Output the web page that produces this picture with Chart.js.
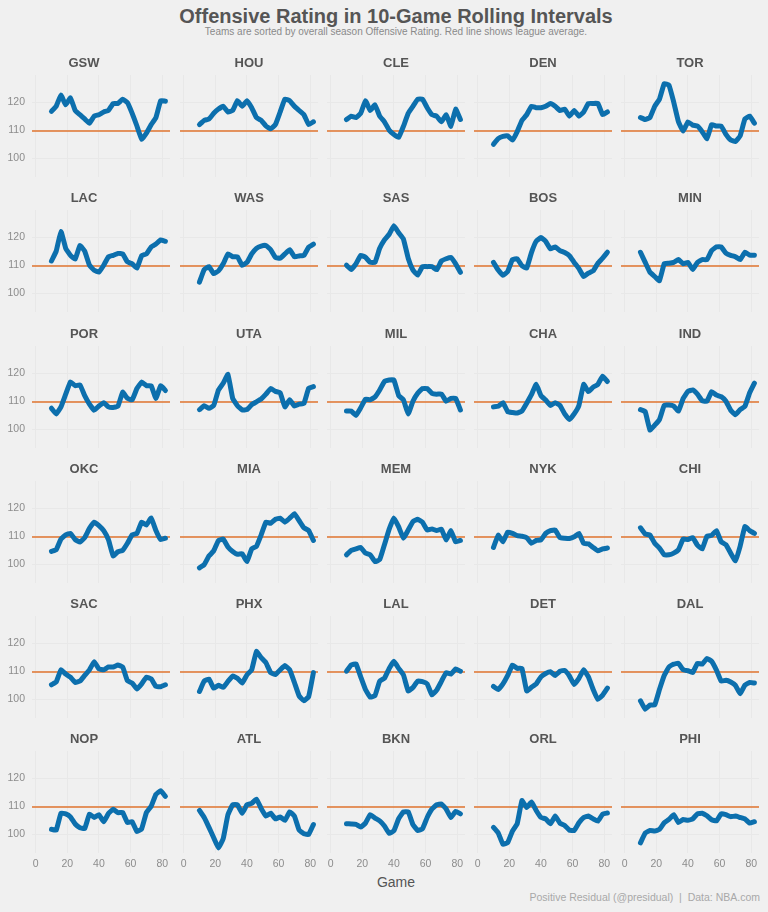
<!DOCTYPE html>
<html>
<head>
<meta charset="utf-8">
<script src="https://cdn.jsdelivr.net/npm/chart.js@4.4.1/dist/chart.umd.min.js"></script>
<style>
body{margin:0;background:#f0f0f0;width:768px;height:912px;position:relative;overflow:hidden;font-family:"Liberation Sans",Arial,sans-serif}
#title{position:absolute;left:96px;width:600px;top:4px;text-align:center;font-size:20px;line-height:24px;font-weight:bold;color:#555}
#subtitle{position:absolute;left:96px;width:600px;top:25.5px;text-align:center;font-size:10px;line-height:12px;color:#8a8a8a}
#xlabel{position:absolute;left:296px;width:200px;top:874px;text-align:center;font-size:14px;line-height:16px;color:#555}
#caption{position:absolute;right:8px;top:891px;font-size:10.5px;line-height:13px;color:#a8a8a8;white-space:pre}
canvas{position:absolute}
</style>
</head>
<body>
<div id="title">Offensive Rating in 10-Game Rolling Intervals</div>
<div id="subtitle">Teams are sorted by overall season Offensive Rating. Red line shows league average.</div>
<div id="xlabel">Game</div>
<div id="caption">Positive Residual (@presidual)  |  Data: NBA.com</div>
<script>
const GAMES = [10,13,16,19,22,25,28,31,34,37,40,43,46,49,52,55,58,61,64,67,70,73,76,79,82];
const LEAGUE_AVG = 109.7;
const X_TICKS = [0,20,40,60,80];
const Y_TICKS = [100,110,120];

const TEAMS = [
  "GSW","HOU","CLE","DEN","TOR",
  "LAC","WAS","SAS","BOS","MIN",
  "POR","UTA","MIL","CHA","IND",
  "OKC","MIA","MEM","NYK","CHI",
  "SAC","PHX","LAL","DET","DAL",
  "NOP","ATL","BKN","ORL","PHI"
];

const GSW = [116.7,118.5,122.5,119,121.5,117,115.5,114,112.5,115,115.5,116.5,117,119.5,119.5,121,119.8,116,111.5,106.8,109,112,114.5,120.5,120.3];
const HOU = [112,113.5,114,116,117.5,118.5,116.5,117,120.5,118.5,120.5,118,114.5,113.5,111.5,110.5,112,116.5,121,120.5,118.5,117,115.5,112,113];
const CLE = [113.8,115,114.5,116,120.5,117,119,115,113,110,108.5,107.5,111.4,116,118.5,121,121,118,115.5,115,113,115.5,111.4,117.5,113.8];
const DEN = [105,107,107.8,108,106.5,109.5,113.5,115.5,118.5,118,118,118.5,119.5,118.5,117,117.5,115,117,115,116.5,119.5,119.5,119.5,115.5,116.5];
const TOR = [114.5,113.8,114.5,118.5,121,126.5,126,120,113,109.7,113,111.8,111.5,109.5,107,112,111.5,111.5,108.5,106.5,106,108,114,115,112.5];
const LAC = [111.5,115,122,116,113.5,112.2,117,115,110,108.2,107.6,110,113,113.5,114.2,114,111.2,110.5,109,113.4,114,116.5,117.5,119,118.5];
const WAS = [104,108.5,109.5,107,108,110.5,114,113,113,110,111,114,116,116.8,117,115.5,112.8,112.5,114,115.5,113,113.3,113.5,116.4,117.5];
const SAS = [110,108.5,110.5,113.5,112.8,111,111,116,119,121,124,121.5,119.3,112.5,108.3,106.5,109.5,109.5,109.5,108.4,111.5,112.3,112.8,110.5,107.5];
const BOS = [111,108.3,106.4,107.8,112,112.3,109.8,109,114.5,118.5,119.8,118.5,115.8,116.5,115.2,114.5,113.4,111,108.8,106,107.2,108,110.7,112.5,114.6];
const MIN = [114.6,111,107.5,106,104.5,110.5,110.7,111,112,110.5,111,108.5,111,112,112,115.2,116.5,116.5,114.3,113.5,113,112,114.6,113.6,113.5];
const POR = [107.5,105.5,108,112.5,116.9,115.5,115.8,112,109,106.8,108.3,109.5,108,107.8,108.2,113.2,111,110.5,114.5,116.8,115.5,115.5,111,115.5,113.8];
const UTA = [107,108.4,107.5,108.5,114,116.4,119.5,111,108.4,106.9,107,108.8,109.8,110.8,112.5,114.5,113.5,113,108,110.5,108.3,109,109.2,114.6,115.2];
const MIL = [106.5,106.5,105,107.7,110.7,110.5,111.5,114,117,117.5,117.5,112,110.5,105.5,110,112.8,114.5,114.5,112.8,112.5,112.6,110,111,111,106.9];
const CHA = [108,108.2,109.5,106.3,106,105.8,106.5,109.3,112.3,116,112,110.4,108.5,109.5,108.5,105.5,103.5,105.5,108.5,116,113.4,115,116,118.9,117];
const IND = [107,106.3,99.8,101.5,103.5,108.5,108.7,108.3,106.5,111,113.5,114,112.5,110.2,110,113.4,112.2,111.6,110,106.8,105.2,107,108.2,113,116.4];
const OKC = [104.6,105.2,109,110.5,111,108.8,107.9,109.5,112.8,115,113.8,112,108.8,103,104.5,105,107.5,110.5,111,115,114,116.5,112,108.8,109.3];
const MIA = [98.8,99.9,103,104.8,108.5,109,106.2,104.6,103.6,103.8,101,105.5,106.4,110.5,115,114.6,116,116.4,115,116.4,118,115.5,113,112,108.5];
const MEM = [103.4,105,105.5,106,104,103.4,101,101.7,107,112.5,116.5,113.3,109.3,112.2,115.2,116,115,112.2,112.6,112,112.5,108.7,112,108,108.5];
const NYK = [106,110.4,108,111.5,111,110.2,110,109.5,107.5,108.5,108.7,111,112,112.2,109.5,109.3,109.2,109.8,111,107.5,107.3,106,104.8,105.5,105.8];
const CHI = [113,110.8,110.4,107.5,105.8,103.4,103.4,104,105.2,109,108.8,109.5,106.8,105.5,110,110.3,112,108,107,104,101.3,106.5,113.4,112,111];
const SAC = [105.2,106.2,110.5,109,107.9,106,106.5,108.5,110.5,113.4,110.8,110.5,111.5,111.5,112.2,111.5,106.6,105.8,103.7,105.5,107.9,107.3,104.6,104.5,105.2];
const PHX = [102.8,106.5,107.2,104,105,104.3,106.4,108.3,107.5,105.8,108.7,110.5,117,114.8,113,109.5,108.8,110.5,112,110.5,106,101.2,99.5,101,109.5];
const LAL = [110,112.2,112.6,108,103.5,100.8,101.3,106.5,107.5,111,113.5,111,108.7,103,104.2,106.5,106.3,105.5,101.6,103.3,106.4,109.5,109,110.8,110];
const DET = [104.6,103.5,105.5,108.5,112.2,111,111,103,104.3,105.5,108,109.2,109.8,108.5,110,110.3,108.3,105.3,107.5,110.5,108,103.5,100,101.5,104];
const DAL = [99.5,96.5,98,98,103.5,108.5,111.5,112.5,112.8,110.5,110.2,109.5,112.8,112.5,114.5,113.5,110.4,106.5,106.8,106.2,105,102,105.1,106,105.8];
const NOP = [101.8,101.5,107.5,107.3,106.2,103.7,102.4,102.1,107.2,106,107,104.5,107.4,108.9,107.7,107.8,104.2,104.5,101,102,107.8,110,114.2,115.5,113.5];
const ATL = [108.5,106,102.5,98.8,95.2,98.5,107,110.5,110.5,107.5,110.5,111,112.5,109.2,106.5,107.5,105.5,106.2,105,108,106.5,101.5,100.2,100,103.5];
const BKN = [103.8,103.7,103.6,102.6,104,107,105.8,104.8,103,100.4,101.3,105.6,108,108,103.5,101.4,102,106,109,110.5,110.8,109,106,108.2,107.3];
const ORL = [102.5,100.5,96.5,97.1,101.2,103.8,112,109.5,111.5,108.5,106,105.5,103.8,106.5,104,103.2,101.5,101.4,104.1,106,106.5,105.5,104.7,107.2,107.6];
const PHI = [97,100.5,101.4,101.2,101.8,104.1,105.3,107,104.2,105.3,105,105.5,107.3,107.5,106.6,105.2,104.8,107.3,107,106.3,106.5,106,105.5,104,104.5];

const SERIES = {GSW,HOU,CLE,DEN,TOR,LAC,WAS,SAS,BOS,MIN,POR,UTA,MIL,CHA,IND,
                OKC,MIA,MEM,NYK,CHI,SAC,PHX,LAL,DET,DAL,NOP,ATL,BKN,ORL,PHI};

const X_MIN = -2.3, X_MAX = 84.9;
const Y_MIN = 93.4, Y_MAX = 129.6;

Chart.defaults.font.family = '"Liberation Sans", Arial, sans-serif';

function makePanel(team, idx){
  const r = Math.floor(idx / 5), c = idx % 5;
  const plotLeft = Math.round(32.3 + 147.25 * c);
  const plotTop = Math.round(75.2 + 135.2 * r);
  const plotW = 138, plotH = 102;
  const yW = c === 0 ? 34 : 0;
  const xH = r === 5 ? 20 : 0;
  const titleH = 23;

  const cv = document.createElement("canvas");
  cv.width = yW + plotW + 6;
  cv.height = titleH + plotH + xH + 2;
  cv.style.left = (plotLeft - yW) + "px";
  cv.style.top = (plotTop - titleH) + "px";
  document.body.appendChild(cv);

  new Chart(cv, {
    type: "line",
    data: {
      datasets: [{
        data: SERIES[team].map((v, i) => ({x: GAMES[i], y: v})),
        borderColor: "#0c6fad",
        borderWidth: 5,
        borderJoinStyle: "round",
        borderCapStyle: "round",
        pointRadius: 0,
        tension: 0.1,
        order: 0
      }, {
        data: [{x: X_MIN, y: LEAGUE_AVG}, {x: X_MAX, y: LEAGUE_AVG}],
        borderColor: "#e0742f",
        borderWidth: 1.6,
        pointRadius: 0,
        order: 1
      }]
    },
    options: {
      responsive: false,
      animation: false,
      devicePixelRatio: 1,
      layout: {padding: {left: 0, right: 6, top: 0, bottom: 2}},
      plugins: {
        legend: {display: false},
        tooltip: {enabled: false},
        title: {
          display: true,
          text: team,
          color: "#555",
          font: {size: 13, weight: "bold"},
          padding: {top: 4, bottom: 3.4}
        }
      },
      scales: {
        x: {
          type: "linear",
          min: X_MIN, max: X_MAX,
          afterBuildTicks: s => { s.ticks = X_TICKS.map(v => ({value: v})); },
          afterFit: s => { s.height = xH; s.paddingLeft = 0; s.paddingRight = 0; },
          grid: {color: "#e8e8e8", lineWidth: 1, drawTicks: false},
          border: {display: false},
          ticks: {display: r === 5, color: "#8c8c8c", font: {size: 10.5}, padding: 5, maxRotation: 0}
        },
        y: {
          min: Y_MIN, max: Y_MAX,
          afterBuildTicks: s => { s.ticks = Y_TICKS.map(v => ({value: v})); },
          afterFit: s => { s.width = yW; s.paddingTop = 0; s.paddingBottom = 0; },
          grid: {color: "#e8e8e8", lineWidth: 1, drawTicks: false},
          border: {display: false},
          ticks: {display: c === 0, color: "#8c8c8c", font: {size: 10.5}, padding: 7}
        }
      }
    }
  });
}

TEAMS.forEach(makePanel);
</script>
</body>
</html>
